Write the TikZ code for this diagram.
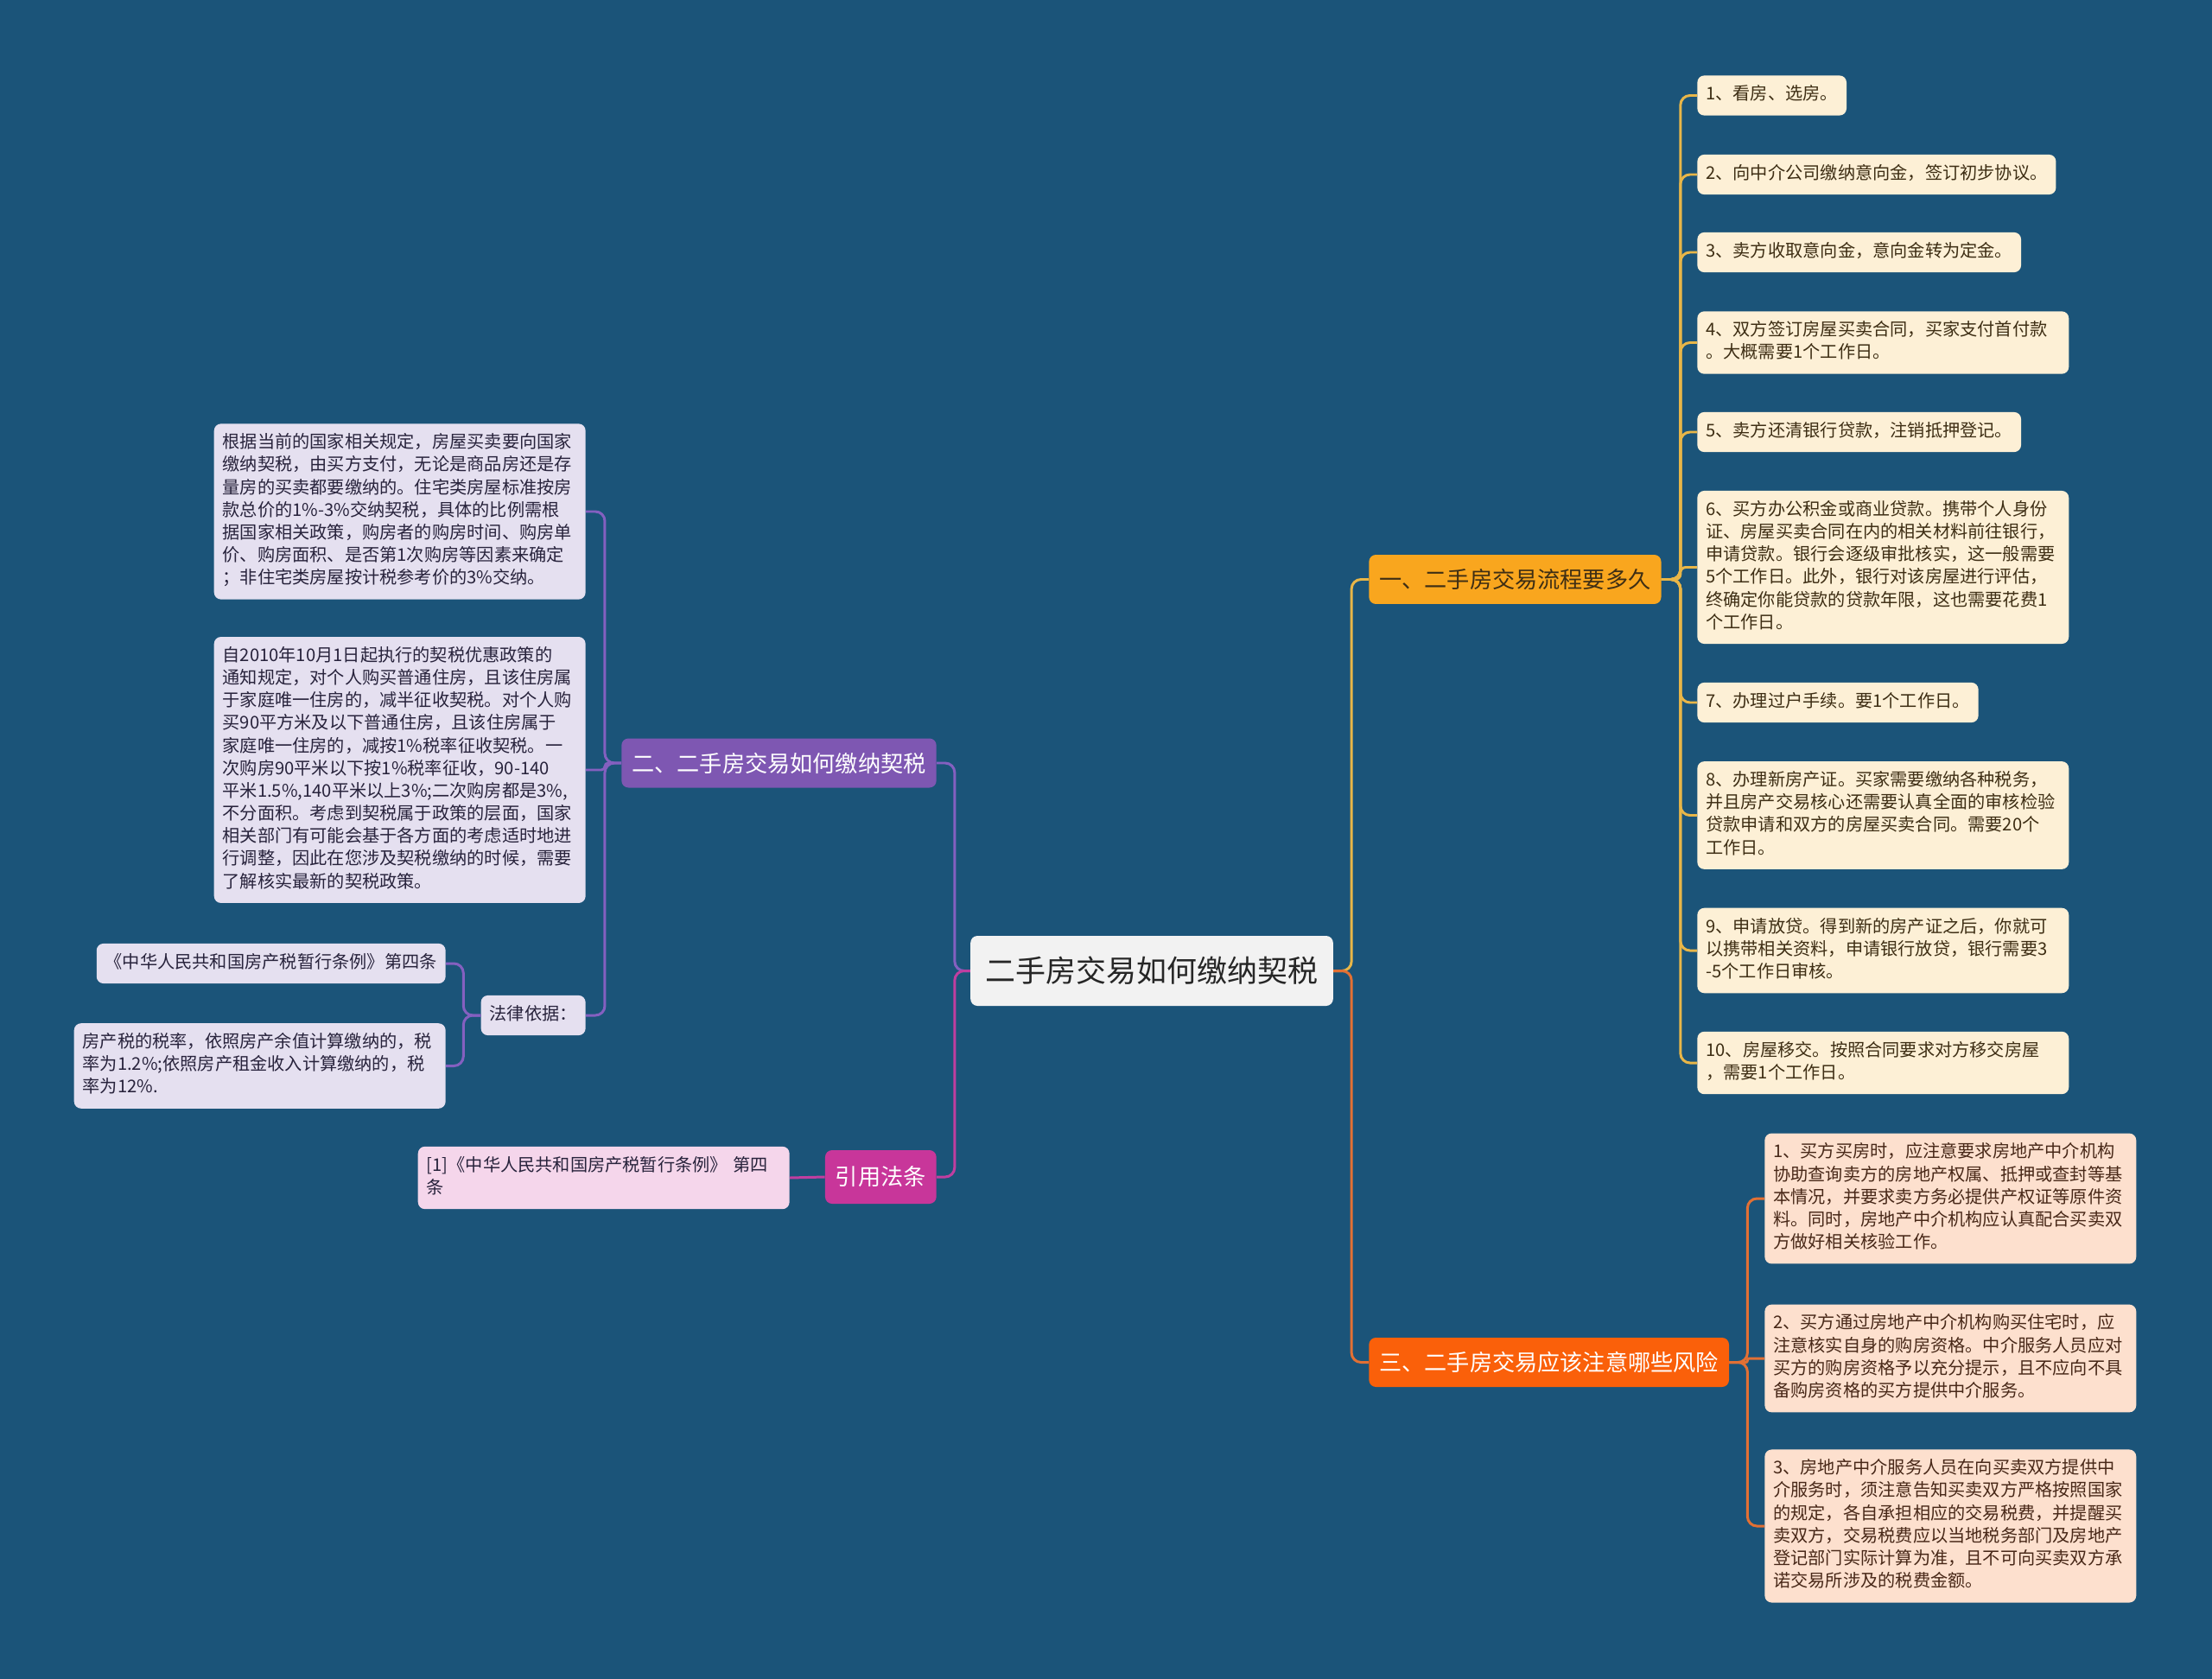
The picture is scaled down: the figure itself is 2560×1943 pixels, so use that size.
\documentclass[tikz,border=0pt]{standalone}
\usepackage{fontspec}
\setmainfont{Noto Sans CJK SC}

\definecolor{fondo}{RGB}{27,84,121}
\definecolor{raizfill}{RGB}{242,242,242}
\definecolor{unofill}{RGB}{249,166,30}
\definecolor{unoline}{RGB}{232,182,72}
\definecolor{unohoja}{RGB}{253,240,214}
\definecolor{unotexto}{RGB}{62,46,20}
\definecolor{tresfill}{RGB}{250,96,10}
\definecolor{tresline}{RGB}{226,112,52}
\definecolor{treshoja}{RGB}{253,224,206}
\definecolor{trestexto}{RGB}{72,40,24}
\definecolor{dosfill}{RGB}{126,87,178}
\definecolor{dosline}{RGB}{132,96,192}
\definecolor{doshoja}{RGB}{229,224,240}
\definecolor{dostexto}{RGB}{40,35,60}
\definecolor{citafill}{RGB}{200,54,154}
\definecolor{citaline}{RGB}{192,62,160}
\definecolor{citahoja}{RGB}{245,214,235}

\begin{document}
\begin{tikzpicture}[x=0.02cm, y=-0.02cm,
  caja/.style={rounded corners=0.16cm, align=left, inner xsep=0.2cm, inner ysep=0.2cm,
    font=\fontsize{11.5pt}{14.9pt}\selectfont,
    execute at begin node=\strut, execute at end node=\strut},
  ancha/.style={caja, text width=8.2cm},
  rama/.style={rounded corners=0.16cm, minimum height=1.14cm, inner xsep=0.24cm,
    inner ysep=0pt, font=\fontsize{14.9pt}{18pt}\selectfont},
  enlace/.style={line width=1.7pt, rounded corners=0.22cm}]
  % fondo
  \fill[fondo] (0,0) rectangle (2560,1943);
  \useasboundingbox (0,0) rectangle (2560,1943);

  % tema central
  \node[rounded corners=0.16cm, fill=raizfill, text=black!85, minimum height=1.62cm,
        inner xsep=0.35cm, font=\fontsize{19.9pt}{24pt}\selectfont] (raiz) at (1333,1123.5)
        {二手房交易如何缴纳契税};

  % ramas principales
  \node[rama, fill=unofill, text=unotexto, anchor=west] (uno) at (1584,670.5)
        {一、二手房交易流程要多久};
  \node[rama, fill=tresfill, text=white, anchor=west] (tres) at (1584,1576.5)
        {三、二手房交易应该注意哪些风险};
  \node[rama, fill=dosfill, text=white, anchor=east] (dos) at (1084,883)
        {二、二手房交易如何缴纳契税};
  \node[rama, fill=citafill, text=white, anchor=east, minimum height=1.24cm] (cita) at (1084,1362)
        {引用法条};

  % pasos del tramite
  \node[caja, fill=unohoja, text=unotexto, anchor=west] (u1) at (1964,110.5)
        {1、看房、选房。};
  \node[caja, fill=unohoja, text=unotexto, anchor=west] (u2) at (1964,202)
        {2、向中介公司缴纳意向金，签订初步协议。};
  \node[caja, fill=unohoja, text=unotexto, anchor=west] (u3) at (1964,292)
        {3、卖方收取意向金，意向金转为定金。};
  \node[ancha, fill=unohoja, text=unotexto, anchor=west] (u4) at (1964,396.5)
        {4、双方签订房屋买卖合同，买家支付首付款\\。大概需要1个工作日。};
  \node[caja, fill=unohoja, text=unotexto, anchor=west] (u5) at (1964,500)
        {5、卖方还清银行贷款，注销抵押登记。};
  \node[ancha, fill=unohoja, text=unotexto, anchor=west] (u6) at (1964,656.5)
        {6、买方办公积金或商业贷款。携带个人身份\\证、房屋买卖合同在内的相关材料前往银行，\\申请贷款。银行会逐级审批核实，这一般需要\\5个工作日。此外，银行对该房屋进行评估，\\终确定你能贷款的贷款年限，这也需要花费1\\个工作日。};
  \node[caja, fill=unohoja, text=unotexto, anchor=west] (u7) at (1964,813)
        {7、办理过户手续。要1个工作日。};
  \node[ancha, fill=unohoja, text=unotexto, anchor=west] (u8) at (1964,943.5)
        {8、办理新房产证。买家需要缴纳各种税务，\\并且房产交易核心还需要认真全面的审核检验\\贷款申请和双方的房屋买卖合同。需要20个\\工作日。};
  \node[ancha, fill=unohoja, text=unotexto, anchor=west] (u9) at (1964,1100)
        {9、申请放贷。得到新的房产证之后，你就可\\以携带相关资料，申请银行放贷，银行需要3\\-5个工作日审核。};
  \node[ancha, fill=unohoja, text=unotexto, anchor=west] (u10) at (1964,1230)
        {10、房屋移交。按照合同要求对方移交房屋\\，需要1个工作日。};

  % riesgos
  \node[ancha, fill=treshoja, text=trestexto, anchor=west] (t1) at (2042,1387)
        {1、买方买房时，应注意要求房地产中介机构\\协助查询卖方的房地产权属、抵押或查封等基\\本情况，并要求卖方务必提供产权证等原件资\\料。同时，房地产中介机构应认真配合买卖双\\方做好相关核验工作。};
  \node[ancha, fill=treshoja, text=trestexto, anchor=west] (t2) at (2042,1572)
        {2、买方通过房地产中介机构购买住宅时，应\\注意核实自身的购房资格。中介服务人员应对\\买方的购房资格予以充分提示，且不应向不具\\备购房资格的买方提供中介服务。};
  \node[ancha, fill=treshoja, text=trestexto, anchor=west] (t3) at (2042,1766)
        {3、房地产中介服务人员在向买卖双方提供中\\介服务时，须注意告知买卖双方严格按照国家\\的规定，各自承担相应的交易税费，并提醒买\\卖双方，交易税费应以当地税务部门及房地产\\登记部门实际计算为准，且不可向买卖双方承\\诺交易所涉及的税费金额。};

  %契税
  \node[ancha, fill=doshoja, text=dostexto, anchor=east] (d1) at (678,592)
        {根据当前的国家相关规定，房屋买卖要向国家\\缴纳契税，由买方支付，无论是商品房还是存\\量房的买卖都要缴纳的。住宅类房屋标准按房\\款总价的1\%-3\%交纳契税，具体的比例需根\\据国家相关政策，购房者的购房时间、购房单\\价、购房面积、是否第1次购房等因素来确定\\；非住宅类房屋按计税参考价的3\%交纳。};
  \node[ancha, fill=doshoja, text=dostexto, anchor=east] (d2) at (678,891)
        {自2010年10月1日起执行的契税优惠政策的\\通知规定，对个人购买普通住房，且该住房属\\于家庭唯一住房的，减半征收契税。对个人购\\买90平方米及以下普通住房，且该住房属于\\家庭唯一住房的，减按1\%税率征收契税。一\\次购房90平米以下按1\%税率征收，90-140\\平米1.5\%,140平米以上3\%;二次购房都是3\%,\\不分面积。考虑到契税属于政策的层面，国家\\相关部门有可能会基于各方面的考虑适时地进\\行调整，因此在您涉及契税缴纳的时候，需要\\了解核实最新的契税政策。};
  \node[caja, fill=doshoja, text=dostexto, anchor=east] (ley) at (678,1175)
        {法律依据：};
  \node[caja, fill=doshoja, text=dostexto, anchor=east] (ley1) at (516,1115)
        {《中华人民共和国房产税暂行条例》第四条};
  \node[ancha, fill=doshoja, text=dostexto, anchor=east] (ley2) at (516,1233.5)
        {房产税的税率，依照房产余值计算缴纳的，税\\率为1.2\%;依照房产租金收入计算缴纳的，税\\率为12\%.};

  % referencia
  \node[ancha, fill=citahoja, text=dostexto, anchor=east] (c1) at (914,1363)
        {[1]《中华人民共和国房产税暂行条例》 第四\\条};

  % conexiones del centro
  \draw[enlace, unoline] (raiz.east) -- ++(21,0) |- (uno.west);
  \draw[enlace, tresline] (raiz.east) -- ++(21,0) |- (tres.west);
  \draw[enlace, dosline] (raiz.west) -- ++(-18,0) |- (dos.east);
  \draw[enlace, citaline] (raiz.west) -- ++(-18,0) |- (cita.east);

  % conexiones rama uno
  \draw[enlace, unoline] (uno.east) -- ++(22,0) |- (u1.west);
  \draw[enlace, unoline] (uno.east) -- ++(22,0) |- (u2.west);
  \draw[enlace, unoline] (uno.east) -- ++(22,0) |- (u3.west);
  \draw[enlace, unoline] (uno.east) -- ++(22,0) |- (u4.west);
  \draw[enlace, unoline] (uno.east) -- ++(22,0) |- (u5.west);
  \draw[enlace, unoline, rounded corners=0.12cm] (uno.east) -- ++(22,0) |- (u6.west);
  \draw[enlace, unoline] (uno.east) -- ++(22,0) |- (u7.west);
  \draw[enlace, unoline] (uno.east) -- ++(22,0) |- (u8.west);
  \draw[enlace, unoline] (uno.east) -- ++(22,0) |- (u9.west);
  \draw[enlace, unoline] (uno.east) -- ++(22,0) |- (u10.west);

  % conexiones rama tres
  \draw[enlace, tresline] (tres.east) -- ++(21,0) |- (t1.west);
  \draw[enlace, tresline, rounded corners=0.04cm] (tres.east) -- ++(21,0) |- (t2.west);
  \draw[enlace, tresline] (tres.east) -- ++(21,0) |- (t3.west);

  % conexiones rama dos
  \draw[enlace, dosline] (dos.west) -- ++(-19,0) |- (d1.east);
  \draw[enlace, dosline, rounded corners=0.08cm] (dos.west) -- ++(-19,0) |- (d2.east);
  \draw[enlace, dosline] (dos.west) -- ++(-19,0) |- (ley.east);
  \draw[enlace, dosline] (ley.west) -- ++(-20,0) |- (ley1.east);
  \draw[enlace, dosline] (ley.west) -- ++(-20,0) |- (ley2.east);

  % conexion referencia
  \draw[enlace, citaline] (cita.west) -- (c1.east);
\end{tikzpicture}
\end{document}
